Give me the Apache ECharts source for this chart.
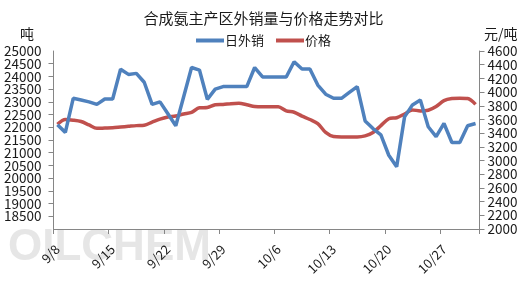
<!DOCTYPE html>
<html>
<head>
<meta charset="utf-8">
<script src="https://cdn.jsdelivr.net/npm/echarts@6/dist/echarts.min.js"></script>
<style>html,body{margin:0;padding:0;background:#fff}#c{width:527px;height:283px}</style>
</head>
<body>
<div id="c"></div>
<script>
// Categories: one per day, 9/8 .. 10/31
var dates = ['9/8','9/9','9/10','9/11','9/12','9/13','9/14','9/15','9/16','9/17','9/18','9/19','9/20','9/21',
  '9/22','9/23','9/24','9/25','9/26','9/27','9/28','9/29','9/30','10/1','10/2','10/3','10/4','10/5',
  '10/6','10/7','10/8','10/9','10/10','10/11','10/12','10/13','10/14','10/15','10/16','10/17','10/18','10/19',
  '10/20','10/21','10/22','10/23','10/24','10/25','10/26','10/27','10/28','10/29','10/30','10/31'];
// 日外销 (吨)
var outbound = [22100,21800,23140,23070,23000,22900,23110,23110,24280,24080,24120,23770,22900,23000,
  22530,22060,23200,24350,24250,23100,23500,23600,23600,23600,23600,24350,23980,23980,
  23980,23980,24580,24290,24290,23660,23300,23140,23140,23370,23600,22250,21950,21700,
  20900,20450,22410,22880,23070,22020,21630,22150,21400,21400,22060,22150];
// 价格 (元/吨)
var price = [3530,3600,3590,3570,3520,3470,3475,3480,3490,3500,3510,3515,3560,3605,
  3635,3650,3680,3705,3770,3775,3815,3820,3830,3835,3815,3790,3785,3785,
  3785,3725,3705,3650,3600,3540,3410,3350,3345,3345,3345,3360,3410,3510,
  3610,3625,3680,3740,3725,3735,3790,3875,3905,3910,3905,3820];
var leftTicks = {min:18000, max:25000, interval:500};
var rightTicks = {min:2000, max:4600, interval:200};

var font = '"Noto Sans CJK SC","Noto Sans",sans-serif';
var chart = echarts.init(document.getElementById('c'), null, {renderer:'canvas'});
var axisColor = '#868686';
function plain(v){ return String(v); }
function onlyMax(v){ return v === leftTicks.max ? String(v) : ''; }
chart.setOption({
  animation:false,
  textStyle:{fontFamily:font},
  title:{text:'合成氨主产区外销量与价格走势对比', left:'center', top:6,
    textStyle:{fontSize:15, fontWeight:'normal', color:'#1a1a1a', fontFamily:font}},
  legend:{top:29, left:'center', icon:'rect', itemWidth:28, itemHeight:4, itemGap:12,
    textStyle:{fontSize:13, color:'#1a1a1a', fontFamily:font, padding:[0,0,0,-4]},
    data:['日外销','价格']},
  grid:{left:53.5, right:47.5, top:51, bottom:54, containLabel:false},
  graphic:[
    {type:'text', left:8, top:226, z:-1, silent:true,
      style:{text:'OILCHEM', fill:'rgba(205,205,205,0.5)', font:'bold 44px "Liberation Sans", sans-serif'}},
    {type:'text', left:20, top:27, style:{text:'吨', fill:'#1a1a1a', font:'14px ' + font}},
    {type:'text', left:484, top:27, style:{text:'元/吨', fill:'#1a1a1a', font:'14px ' + font}}
  ],
  xAxis:{type:'category', data:dates, boundaryGap:true,
    axisLine:{lineStyle:{color:axisColor, width:1}},
    axisTick:{show:true, interval:6, length:5, lineStyle:{color:axisColor}},
    axisLabel:{interval:6, rotate:45, margin:18, fontSize:13, color:'#1a1a1a', fontFamily:font, hideOverlap:false},
    splitLine:{show:false}},
  yAxis:[
    {type:'value', min:leftTicks.min, max:leftTicks.max, interval:leftTicks.interval, position:'left',
      axisLine:{show:true, lineStyle:{color:axisColor}},
      axisTick:{show:true, length:5, lineStyle:{color:axisColor}},
      axisLabel:{fontSize:13.5, color:'#1a1a1a', margin:12, fontFamily:font, formatter:plain,
        showMaxLabel:false},
      splitLine:{show:false}},
    {type:'value', min:rightTicks.min, max:rightTicks.max, interval:rightTicks.interval, position:'right',
      axisLine:{show:true, lineStyle:{color:axisColor}},
      axisTick:{show:true, length:5, lineStyle:{color:axisColor}},
      axisLabel:{fontSize:13.5, color:'#1a1a1a', margin:8, fontFamily:font, formatter:plain,
        showMinLabel:true, showMaxLabel:true},
      splitLine:{show:false}},
    {type:'value', min:leftTicks.min, max:leftTicks.max, interval:leftTicks.interval, position:'left',
      axisLine:{show:false}, axisTick:{show:false},
      axisLabel:{fontSize:13.5, color:'#1a1a1a', margin:12, fontFamily:font, formatter:onlyMax,
        showMinLabel:false, showMaxLabel:true},
      splitLine:{show:false}}
  ],
  series:[
    {name:'日外销', type:'line', yAxisIndex:0, data:outbound, showSymbol:false, symbol:'none',
      lineStyle:{color:'#4F81BD', width:3.5}, itemStyle:{color:'#4F81BD'}, z:3},
    {name:'价格', type:'line', yAxisIndex:1, data:price, showSymbol:false, symbol:'none', smooth:0.3,
      lineStyle:{color:'#C0504D', width:3.5}, itemStyle:{color:'#C0504D'}, z:2}
  ]
});
</script>
</body>
</html>
